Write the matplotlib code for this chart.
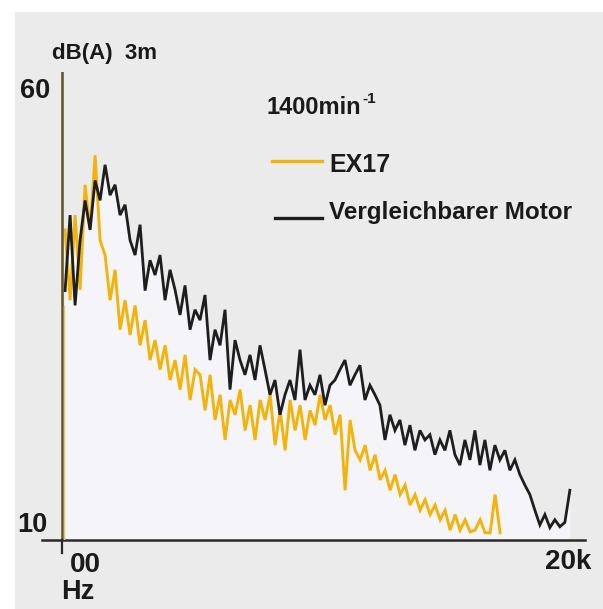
import numpy as np
import matplotlib
matplotlib.use("Agg")
import matplotlib.pyplot as plt
from matplotlib.patches import Rectangle
from matplotlib.lines import Line2D

# ---- data (dB(A) at 3 m, frequency in kHz) ----
black_db = [37.0, 45.7, 35.3, 42.8, 47.4, 44.0, 49.7, 47.4, 51.5, 48.0,
            49.2, 45.7, 46.9, 42.8, 41.1, 44.6, 37.0, 40.5, 38.8, 41.1,
            35.9, 39.4, 37.1, 34.2, 37.6, 32.5, 34.8, 33.6, 36.5, 29.0,
            32.5, 30.7, 34.8, 25.6, 31.3, 29.0, 27.3, 29.6, 26.7, 30.7,
            27.9, 25.0, 26.7, 22.7, 25.0, 26.7, 24.4, 30.2, 24.4, 26.1,
            25.0, 27.3, 23.8, 26.1, 26.7, 27.9, 29.0, 26.1, 27.3, 28.4,
            24.4, 26.1, 25.0, 23.8, 19.8, 22.7, 20.9, 22.1, 19.2, 21.5,
            18.6, 20.9, 19.8, 20.4, 18.1, 19.8, 18.6, 20.9, 18.1, 16.9,
            19.8, 17.5, 20.9, 16.9, 19.8, 16.3, 19.2, 17.5, 18.6, 16.3,
            17.5, 15.8, 14.6, 13.5, 11.7, 10.0, 11.2, 9.7, 10.6, 9.8,
            10.3, 14.0]
ex17_db = [44.0, 35.9, 45.7, 37.1, 49.2, 44.0, 52.6, 42.8, 41.1, 35.9,
           39.4, 32.5, 35.9, 31.9, 35.3, 30.7, 33.6, 29.0, 31.3, 27.9,
           30.7, 26.7, 29.0, 25.6, 29.6, 24.4, 27.9, 27.3, 23.2, 27.3,
           22.1, 25.0, 19.8, 24.4, 22.7, 25.6, 20.9, 23.8, 19.8, 24.4,
           22.1, 25.0, 19.2, 23.2, 18.6, 24.4, 20.9, 23.8, 19.8, 23.2,
           21.5, 25.0, 22.1, 23.8, 20.4, 22.7, 14.0, 22.1, 18.6, 17.5,
           19.2, 16.3, 18.1, 15.2, 16.3, 14.0, 15.8, 13.5, 14.6, 12.3,
           13.5, 11.7, 12.9, 11.2, 12.3, 10.6, 11.7, 9.4, 11.2, 9.4,
           10.6, 9.2, 9.4, 10.6, 9.1, 9.1, 13.5, 9.1]
black_f_range = (0.12, 19.8)   # kHz
ex17_f_range = (0.12, 17.08)   # kHz
y_ticks = [10, 60]
x_tick_labels = ["00", "20k"]
series_names = ["EX17", "Vergleichbarer Motor"]
speed_label = "1400min"
speed_exp = "-1"
unit_label = "dB(A)  3m"

black_f = np.linspace(black_f_range[0], black_f_range[1], len(black_db))
ex17_f = np.linspace(ex17_f_range[0], ex17_f_range[1], len(ex17_db))

W, H = 603, 609
fig = plt.figure(figsize=(W / 100, H / 100), dpi=100)
fig.patch.set_facecolor("white")

def fx(px):
    return px / W

def fy(py):
    return 1 - py / H

# grey panel behind everything
bg = Rectangle((fx(15), 0), 1 - fx(15), fy(12), transform=fig.transFigure,
               facecolor="#EBEBEB", edgecolor="none", zorder=-10)
fig.add_artist(bg)

YELLOW = "#F2B40C"
BLACK = "#1E1E1E"
TXT = "#1A1A1A"
FONT = ["Liberation Sans", "DejaVu Sans"]

ax = fig.add_axes([fx(42), fy(540), fx(585) - fx(42), fy(72) - fy(540)])
ax.set_facecolor("none")
ax.set_xlim(-0.78, 20.39)
ax.set_ylim(8.27, 62.19)

# lighter area under curves
ax.fill_between(black_f, 8.27, black_db, color="#F5F5F9", lw=0, zorder=0)
ax.fill_between(ex17_f, 8.27, ex17_db, color="#F5F5F9", lw=0, zorder=0)

ax.plot(black_f, black_db, color=BLACK, lw=2.0, zorder=3, solid_joinstyle="miter")
ax.plot(ex17_f, ex17_db, color=YELLOW, lw=2.1, zorder=2, solid_joinstyle="miter")

for s in ["top", "right", "left"]:
    ax.spines[s].set_visible(False)
ax.spines["bottom"].set_color("#2A2A2A")
ax.spines["bottom"].set_linewidth(1.8)
ax.set_xticks([])
ax.set_yticks([])

# y axis line at x = 0
ax.axvline(0, color="#5C5428", lw=1.8, zorder=4)
ax.axvline(0.09, ymin=0.0, ymax=0.5, color="#DCCC6A", lw=1.0, zorder=4)
# tick below axis at 0
fig.add_artist(Line2D([fx(62), fx(62)], [fy(540), fy(553)], color="#2A2A2A", lw=1.6,
                      transform=fig.transFigure))

# y labels
fig.text(fx(50), fy(91), str(y_ticks[1]), ha="right", va="center", fontsize=19.5,
         fontweight="bold", family=FONT, color=TXT)
fig.text(fx(47), fy(525), str(y_ticks[0]), ha="right", va="center", fontsize=19.5,
         fontweight="bold", family=FONT, color=TXT)
fig.text(fx(52), fy(53), unit_label, ha="left", va="center", fontsize=16,
         fontweight="bold", family=FONT, color=TXT)

# x labels
fig.text(fx(70), fy(565), x_tick_labels[0], ha="left", va="center", fontsize=20,
         fontweight="bold", family=FONT, color=TXT)
fig.text(fx(61), fy(592), "Hz", ha="left", va="center", fontsize=19.5,
         fontweight="bold", family=FONT, color=TXT)
fig.text(fx(591), fy(562), x_tick_labels[1], ha="right", va="center", fontsize=20,
         fontweight="bold", family=FONT, color=TXT)

# legend
t = fig.text(fx(267), fy(108), speed_label, ha="left", va="center", fontsize=17,
             fontweight="bold", family=FONT, color=TXT)
fig.canvas.draw()
bb = t.get_window_extent()
fig.text(bb.x1 / W + 0.002, fy(99), speed_exp, ha="left", va="center", fontsize=11,
         fontweight="bold", family=FONT, color=TXT)
fig.add_artist(Line2D([fx(272), fx(322)], [fy(161), fy(161)], color=YELLOW, lw=2.4,
                      transform=fig.transFigure))
fig.add_artist(Line2D([fx(275), fx(322)], [fy(218), fy(218)], color=BLACK, lw=2.4,
                      transform=fig.transFigure))
fig.text(fx(329), fy(165), series_names[0], ha="left", va="center", fontsize=18,
         fontweight="bold", family=FONT, color=TXT)
fig.text(fx(329), fy(212), series_names[1], ha="left", va="center", fontsize=17.5,
         fontweight="bold", family=FONT, color=TXT)

fig.savefig("out.png", dpi=100)
